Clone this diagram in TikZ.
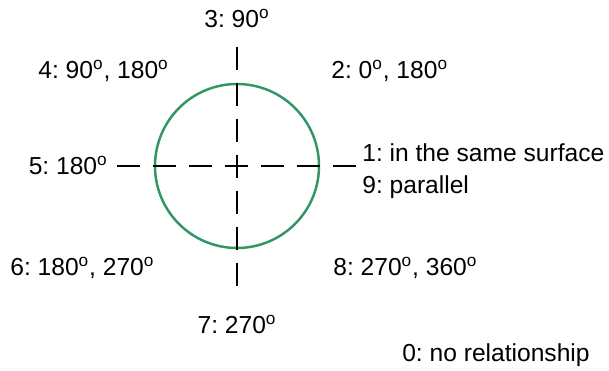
\documentclass[tikz,border=0pt]{standalone}
\usepackage{fontspec}
\setmainfont{Liberation Sans}
\usetikzlibrary{positioning}
\definecolor{ringgreen}{RGB}{50,150,100}
\newcommand{\dg}{\textsuperscript{o}}
\frenchspacing
\tikzset{
    lbl/.style={inner sep=0pt, font=\fontsize{14}{16}\selectfont},
    axis/.style={black, line width=1.55pt, dash pattern=on 13.1pt off 7.4pt},
}
\begin{document}
\begin{tikzpicture}[x=0.02cm, y=-0.02cm]
    % Khung
    \useasboundingbox (0,0) rectangle (609,371);
    % Hình tròn
    \node[draw=ringgreen, line width=1.4pt, circle, minimum size=164*0.02cm, inner sep=0pt] (ring) at (237,166) {};
    % Trục nét đứt
    \coordinate (top) at (237,47);
    \coordinate (bot) at (237,287);
    \coordinate (lft) at (117,166);
    \coordinate (rgt) at (356,166);
    \draw[axis] (top) -- (bot);
    \draw[axis] (lft) -- (rgt);
    
    % Nhãn
    \node[lbl, anchor=base] (n3) at (237,28) {3: 90\dg};
    \node[lbl, anchor=base west] (n4) at (38,79) {4: 90\dg, 180\dg};
    \node[lbl, anchor=base west] (n2) at (331,79) {2: 0\dg, 180\dg};
    \node[lbl, anchor=base east] (n5) at (108,175) {5: 180\dg};
    \node[lbl, anchor=base west] (n1) at (362,162) {1: in the same surface};
    \node[lbl, anchor=base west] (n9) at (362,194) {9: parallel};
    \node[lbl, anchor=base west] (n6) at (10,276) {6: 180\dg, 270\dg};
    \node[lbl, anchor=base west] (n8) at (333,276) {8: 270\dg, 360\dg};
    \node[lbl, anchor=base] (n7) at (237,334) {7: 270\dg};
    \node[lbl, anchor=base east] (n0) at (590,362) {0: no relationship};
\end{tikzpicture}
\end{document}
